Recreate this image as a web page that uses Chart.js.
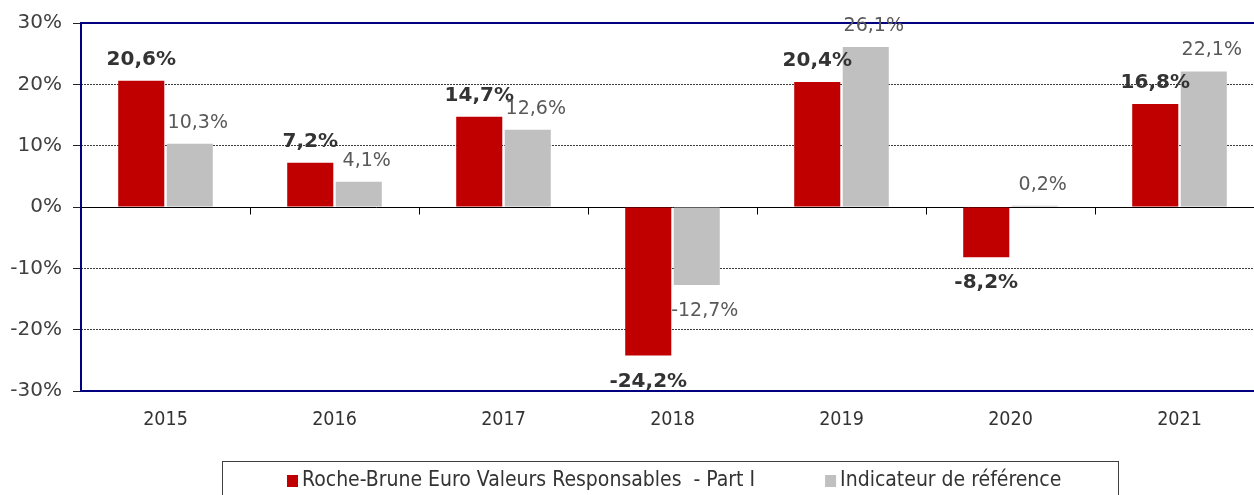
<!DOCTYPE html>
<html>
<head>
<meta charset="utf-8">
<script src="https://cdn.jsdelivr.net/npm/chart.js@4/dist/chart.umd.min.js"></script>
<style>
  html, body { margin: 0; padding: 0; background: #fff; overflow: hidden; }
  #wrap { width: 1280px; height: 495px; position: relative; }
</style>
</head>
<body>
<div id="wrap"><canvas id="c"></canvas></div>
<script>
// ---- data ----
const categories = ['2015', '2016', '2017', '2018', '2019', '2020', '2021'];
const fundValues = [20.6, 7.2, 14.7, -24.2, 20.4, -8.2, 16.8];
const benchmarkValues = [10.3, 4.1, 12.6, -12.7, 26.1, 0.2, 22.1];
const yTickValues = [-30, -20, -10, 0, 10, 20, 30];
const seriesNames = ['Roche-Brune Euro Valeurs Responsables  - Part I', 'Indicateur de référence'];
const seriesColors = ['#C00000', '#C0C0C0'];

const condensed = '"DejaVu Sans Condensed", "Open Sans", sans-serif';
const fmt = v => v.toFixed(1).replace('.', ',') + '%';

const framePlugin = {
  id: 'frame',
  beforeDatasetsDraw(chart) {
    const {ctx, chartArea: a, scales: {x, y}} = chart;
    const y0 = Math.round(y.getPixelForValue(0)) + 0.5;
    ctx.save();
    ctx.strokeStyle = '#000';
    ctx.lineWidth = 1;
    ctx.beginPath();
    ctx.moveTo(a.left, y0); ctx.lineTo(a.right, y0);
    for (let i = 0; i < categories.length - 1; i++) {
      const bx = Math.round((x.getPixelForValue(i) + x.getPixelForValue(i + 1)) / 2) + 0.5;
      ctx.moveTo(bx, y0); ctx.lineTo(bx, y0 + 7);
    }
    ctx.stroke();
    ctx.restore();
  },
  afterDatasetsDraw(chart) {
    const {ctx, chartArea: a} = chart;
    ctx.save();
    ctx.strokeStyle = '#000080';
    ctx.lineWidth = 2;
    ctx.beginPath();
    ctx.moveTo(a.left, a.top); ctx.lineTo(a.right, a.top);
    ctx.moveTo(a.left, a.bottom); ctx.lineTo(a.right, a.bottom);
    ctx.moveTo(a.left, a.top - 1); ctx.lineTo(a.left, a.bottom + 1);
    ctx.stroke();
    ctx.restore();

    // data labels
    chart.data.datasets.forEach((ds, di) => {
      const meta = chart.getDatasetMeta(di);
      meta.data.forEach((el, i) => {
        const v = ds.data[i];
        ctx.save();
        if (di === 0) {
          ctx.font = 'bold 20px "DejaVu Sans", sans-serif';
          ctx.fillStyle = '#333333';
        } else {
          ctx.font = '19px "DejaVu Sans", sans-serif';
          ctx.fillStyle = '#595959';
        }
        ctx.textAlign = 'center';
        ctx.textBaseline = 'middle';
        const dx = di === 0 ? 0 : 8;
        const ty = v >= 0 ? el.y - 21 : el.y + 26;
        ctx.fillText(fmt(v), el.x + dx, ty);
        ctx.restore();
      });
    });
  },
  afterDraw(chart) {
    const ctx = chart.ctx;
    ctx.save();
    // legend box
    ctx.strokeStyle = '#404040';
    ctx.lineWidth = 1;
    ctx.strokeRect(222.5, 461.5, 896, 60);
    ctx.font = '21px ' + condensed;
    ctx.textBaseline = 'middle';
    ctx.textAlign = 'left';
    const cy = 481;
    let xPos = 287;
    chart.data.datasets.forEach((ds, di) => {
      ctx.fillStyle = ds.backgroundColor;
      ctx.fillRect(xPos, cy - 6, 11, 12);
      ctx.fillStyle = '#333333';
      ctx.fillText(ds.label, xPos + 15, cy);
      xPos += 15 + ctx.measureText(ds.label).width + 70;
    });
    ctx.restore();
  }
};

new Chart(document.getElementById('c'), {
  type: 'bar',
  data: {
    labels: categories,
    datasets: [
      { label: seriesNames[0], data: fundValues, backgroundColor: seriesColors[0],
        categoryPercentage: 0.574, barPercentage: 0.95 },
      { label: seriesNames[1], data: benchmarkValues, backgroundColor: seriesColors[1],
        categoryPercentage: 0.574, barPercentage: 0.95 }
    ]
  },
  options: {
    responsive: true,
    maintainAspectRatio: false,
    animation: false,
    layout: { padding: { top: 22, left: 0, right: 16, bottom: 64 } },
    plugins: { legend: { display: false }, tooltip: { enabled: false } },
    scales: {
      x: {
        grid: { display: false, drawTicks: false },
        border: { display: false },
        ticks: { color: '#333333', font: { family: condensed, size: 19.5 }, padding: 17, maxRotation: 0 },
        afterFit(s) { s.height = 40; }
      },
      y: {
        min: -30, max: 30,
        afterBuildTicks(s) { s.ticks = yTickValues.map(v => ({ value: v })); },
        grid: {
          color: c => (c.tick && [0, 30, -30].includes(c.tick.value)) ? 'rgba(0,0,0,0)' : '#3a3a3a',
          lineWidth: 1,
          tickColor: '#222',
          tickLength: 8,
          drawTicks: true
        },
        border: { display: false, dash: [2, 1] },
        ticks: {
          color: '#404040',
          font: { family: '"DejaVu Sans", sans-serif', size: 20 },
          padding: 11,
          callback: v => v + '%'
        },
        afterFit(s) { s.width = 81; }
      }
    }
  },
  plugins: [framePlugin]
});
</script>
</body>
</html>
